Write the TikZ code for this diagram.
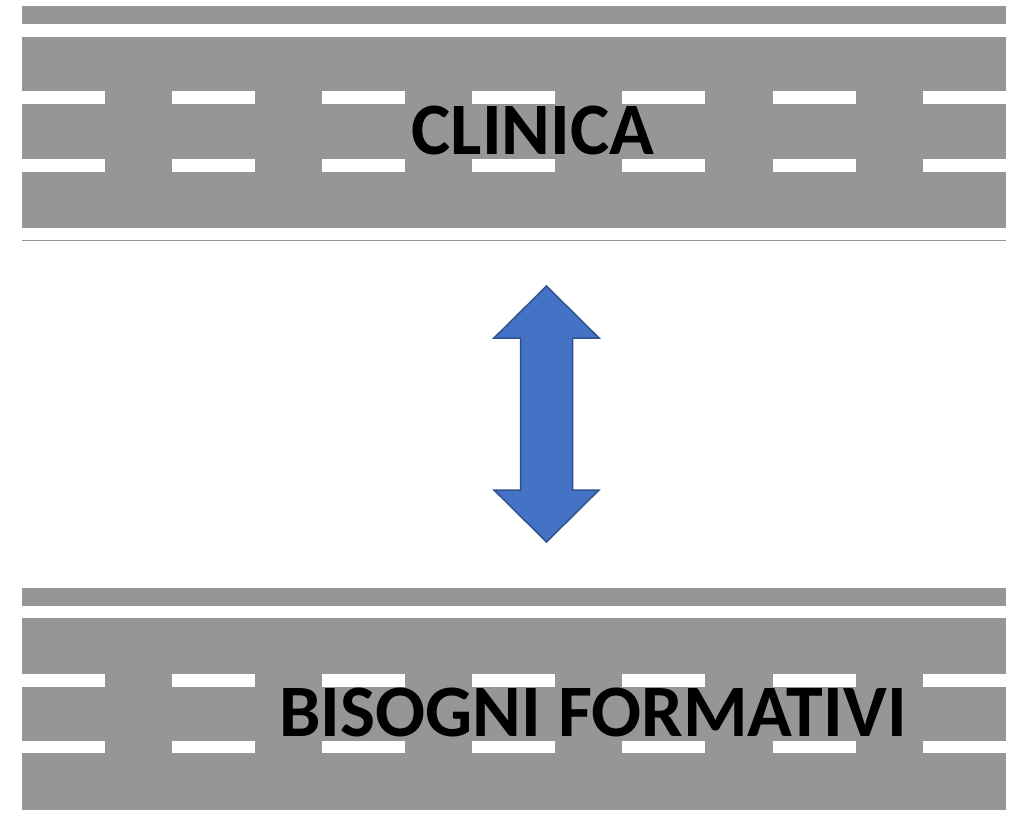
\documentclass[tikz,border=0pt]{standalone}
\usepackage{fontspec}
\setmainfont{Carlito}
\definecolor{road}{RGB}{150,150,150}
\definecolor{arrowfill}{RGB}{68,114,196}
\definecolor{arrowline}{RGB}{47,82,143}
\tikzset{
  roadband/.style={fill=road, draw=none},
  lanemark/.style={fill=white, draw=none},
  label/.style={font=\fontsize{74}{82}\selectfont\bfseries, text=black, inner sep=0pt},
  bigarrow/.style={fill=arrowfill, draw=arrowline, line width=1.5pt, line join=miter}
}
\begin{document}
\begin{tikzpicture}[x=1pt,y=-1pt]
\useasboundingbox (0,0) rectangle (1020,813);
% top road
\fill[roadband] (22,6) rectangle (1006,24);
\fill[roadband] (22,37) rectangle (1006,228);
\foreach \x in {22,172,322,472,622,773,923} {
  \fill[lanemark] (\x,91) rectangle ({\x+83},104);
  \fill[lanemark] (\x,159) rectangle ({\x+83},172);
}
\draw[road, line width=1pt] (22,241) -- (1006,241);
\node[label] (clinica) at (533,130) {CLINICA};
% bottom road
\fill[roadband] (22,588) rectangle (1006,606);
\fill[roadband] (22,618) rectangle (1006,810);
\foreach \x in {22,172,322,472,622,773,923} {
  \fill[lanemark] (\x,674) rectangle ({\x+83},687);
  \fill[lanemark] (\x,741) rectangle ({\x+83},753);
}
\node[label] (bisogni) at (593,712) {BISOGNI FORMATIVI};
% double arrow
\draw[bigarrow] (546.5,286) -- (599,338) -- (572.5,338) -- (572.5,490) -- (599,490)
  -- (546.5,542) -- (494,490) -- (520.5,490) -- (520.5,338) -- (494,338) -- cycle;
\end{tikzpicture}
\end{document}
